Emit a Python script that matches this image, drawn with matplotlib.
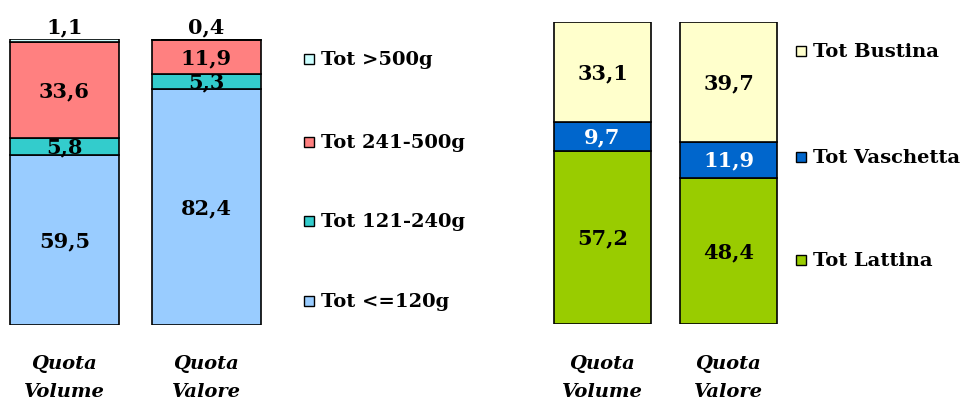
import matplotlib
matplotlib.use("Agg")
import matplotlib.pyplot as plt
from matplotlib.patches import Rectangle

plt.rcParams['font.family'] = ['DejaVu Serif']
plt.rcParams['font.weight'] = 'bold'

# Formato confezione (quote %)
bars = ["Quota\nVolume", "Quota\nValore"]
size_labels = ["Tot <=120g", "Tot 121-240g", "Tot 241-500g", "Tot >500g"]
size_volume = [59.5, 5.8, 33.6, 1.1]
size_value = [82.4, 5.3, 11.9, 0.4]
size_colors = ["#99CCFF", "#33CCCC", "#FF8080", "#CCFFFF"]

# Tipo confezione (quote %)
pack_labels = ["Tot Lattina", "Tot Vaschetta", "Tot Bustina"]
pack_volume = [57.2, 9.7, 33.1]
pack_value = [48.4, 11.9, 39.7]
pack_colors = ["#99CC00", "#0066CC", "#FFFFCC"]
pack_text = ["black", "white", "black"]

W, H = 960, 402
fig = plt.figure(figsize=(W / 100, H / 100), dpi=100)


def px_axes(x0, y_top, w, h):
    return fig.add_axes([x0 / W, (H - y_top - h) / H, w / W, h / H])


def stacked(ax, series, colors, txt_colors, small_top):
    for i, vals in enumerate(series):
        bottom = 0
        for j, v in enumerate(vals):
            ax.bar(i, v, bottom=bottom, width=0.77, color=colors[j],
                   edgecolor="black", linewidth=1.2)
            label = f"{v:.1f}".replace(".", ",")
            if small_top and j == len(vals) - 1:
                ax.annotate(label, (i, bottom + v), xytext=(0, 2),
                            textcoords="offset points", ha="center", va="bottom",
                            fontsize=15, fontweight="bold")
            else:
                ax.text(i, bottom + v / 2, label, ha="center", va="center",
                        fontsize=15, fontweight="bold", color=txt_colors[j])
            bottom += v
    ax.set_ylim(0, 100)
    ax.axis("off")


def legend(x, ys, labels, colors):
    for y, lab, c in zip(ys, labels, colors):
        fig.patches.append(Rectangle((x / W, (H - y - 5) / H), 10 / W, 10 / H,
                                     transform=fig.transFigure, facecolor=c,
                                     edgecolor="black", linewidth=1))
        fig.text((x + 17) / W, (H - y) / H, lab, ha="left", va="center",
                 fontsize=14, fontweight="bold")


def xlabels(centers):
    for cx, lab in zip(centers, bars):
        fig.text(cx / W, (H - 378) / H, lab, ha="center", va="center",
                 fontsize=14, fontweight="bold", style="italic", linespacing=1.7)


ax1 = px_axes(0, 40, 280, 286)
stacked(ax1, [size_volume, size_value], size_colors, ["black"] * 4, True)
ax1.set_xlim(-0.454, 1.518)

ax2 = px_axes(540, 23, 260, 302)
stacked(ax2, [pack_volume, pack_value], pack_colors, pack_text, False)
ax2.set_xlim(-0.496, 1.567)

legend(304, [302, 222, 143, 60], size_labels, size_colors)
legend(796, [261, 158, 52], pack_labels, pack_colors)

xlabels([64, 206])
xlabels([602, 728])

fig.savefig("out.png", dpi=100)
